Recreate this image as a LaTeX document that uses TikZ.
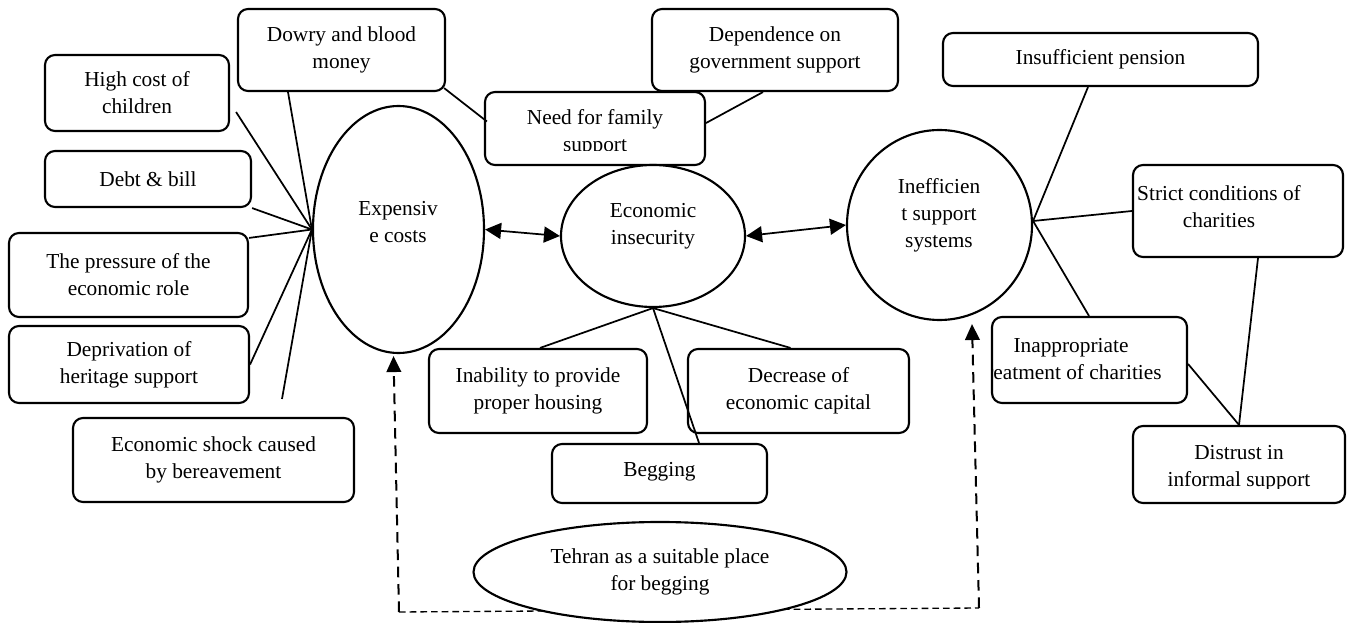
\documentclass[tikz,border=0pt]{standalone}
\usepackage{fontspec}
\setmainfont{Liberation Serif}
\usetikzlibrary{arrows.meta,shapes.geometric,calc}
\begin{document}
\begin{tikzpicture}[x=0.75pt,y=-0.75pt,
  txt/.style={font=\fontsize{16}{20.25}\selectfont, align=center, inner sep=0pt},
  box/.style={txt, draw, line width=1.6pt, rounded corners=7.5pt, fill=white},
  sz/.style 2 args={minimum width=#1*0.75pt, minimum height=#2*0.75pt},
  oval/.style={draw, ellipse, line width=1.6pt, inner sep=0pt, fill=white},
  link/.style={line width=1.3pt},
  biarrow/.style={line width=1.3pt, {Triangle[length=12pt,width=12pt]}-{Triangle[length=12pt,width=12pt]}},
  dasharrow/.style={line width=1.5pt, dash pattern=on 8pt off 5pt, -{Triangle[length=12pt,width=11pt]}},
  dashbase/.style={line width=1pt, dash pattern=on 5pt off 3pt}
]
\path[use as bounding box] (0,0) rectangle (1349,623);

% boxes
\node[box,sz={207}{82}] (dowry) at (341.5,50) {Dowry and blood\\money};
\node[box,sz={184}{76}] (high) at (137,93) {High cost of\\children};
\node[box,sz={206}{56}] (debt) at (148,179) {Debt \& bill};
\node[box,sz={239}{84}] (press) at (128.5,275) {The pressure of the\\economic role};
\node[box,sz={240}{77}] (depr) at (129,364.5) {Deprivation of\\heritage support};
\node[box,sz={281}{84}] (shock) at (213.5,460) {Economic shock caused\\by bereavement};
\node[box,sz={220}{73}] (need) at (595,128.5) {};
\begin{scope}
  \clip (486,93) rectangle (704,151);
  \node[txt] (needtext) at (595,133) {Need for family\\support};
\end{scope}
\node[box,sz={246}{82}] (depend) at (775,50) {Dependence on\\government support};
\node[box,sz={315}{53}] (pension) at (1100.5,59.5) {Insufficient pension};
\node[box,sz={210}{92}] (strict) at (1238,211) {};
\node[txt] (stricttext) at (1219,206.5) {Strict conditions of\\charities};
\node[box,sz={195}{86}] (inappr) at (1089.5,360) {};
\begin{scope}
  \clip (993,318) rectangle (1186,402);
  \node[txt] (inapprtext) at (1071,359) {Inappropriate\\treatment of charities};
\end{scope}
\node[box,sz={212}{77}] (distrust) at (1239,464.5) {};
\begin{scope}
  \clip (1134,427) rectangle (1344,488);
  \node[txt] (distext) at (1239,468) {Distrust in\\informal support};
\end{scope}
\node[box,sz={218}{84}] (inab) at (538,391) {Inability to provide\\proper housing};
\node[box,sz={221}{84}] (decr) at (798.5,391) {Decrease of\\economic capital};
\node[box,sz={215}{59}] (beg) at (659.5,473.5) {};
\node[txt] (begtext) at (659.5,472) {Begging};

% ellipses
\node[oval,sz={171}{247}] (exp) at (398.5,229.5) {};
\node[txt] (exptext) at (398,222) {Expensiv\\e costs};
\node[oval,sz={184}{142}] (econ) at (653,236) {};
\node[txt] (econtext) at (653,226) {Economic\\insecurity};
\node[oval,sz={185}{190}] (ineff) at (939.5,225) {};
\node[txt] (inefftext) at (939,215) {Inefficien\\t support\\systems};

% dashed feedback
\coordinate (dl) at (399,612);
\coordinate (dr) at (979,608);
\draw[dashbase] (dl) -- (dr);
\draw[dasharrow] (dl) -- ($(exp.south)+(-5,2)$);
\draw[dasharrow] (dr) -- ($(ineff.south)+(32.5,3)$);
\node[oval,txt,draw,line width=1.6pt,fill=white,sz={373}{100}] (tehran) at (660,572) {Tehran as a suitable place\\for begging};

% connectors to Expensive costs
\draw[link] ($(high.east)+(6,19)$) -- (exp.west);
\draw[link] ($(dowry.south)+(-53.5,0)$) -- (exp.west);
\draw[link] (debt.south east) -- (exp.west);
\draw[link] ($(press.north east)+(0,6)$) -- (exp.west);
\draw[link] (depr.east) -- (exp.west);
\draw[link] ($(shock.north)+(68.5,-18)$) -- (exp.west);

% top connectors
\draw[link] ($(dowry.south east)+(-2,-4)$) -- ($(need.west)+(3,-7)$);
\draw[link] ($(depend.south)+(-12,0)$) -- ($(need.east)+(0,-5.5)$);

% main arrows
\draw[biarrow] (exp.east) -- (econ.west);
\draw[biarrow] (econ.east) -- (ineff.west);

% economic insecurity children
\draw[link] (econ.south) -- ($(inab.north)+(2,0)$);
\draw[link] (econ.south) -- ($(decr.north)+(-8,0)$);
\draw[link] (econ.south) -- ($(beg.north)+(39.5,0)$);

% inefficient support children
\coordinate (hubR) at ($(ineff.east)+(0,-4)$);
\draw[link] (hubR) -- ($(pension.south)+(-12.5,0)$);
\draw[link] (hubR) -- (strict.west);
\draw[link] (hubR) -- ($(inappr.north)+(-0.5,0)$);
\draw[link] ($(inappr.east)+(0,4)$) -- (distrust.north);
\draw[link] ($(strict.south)+(20,0)$) -- (distrust.north);
\end{tikzpicture}
\end{document}
